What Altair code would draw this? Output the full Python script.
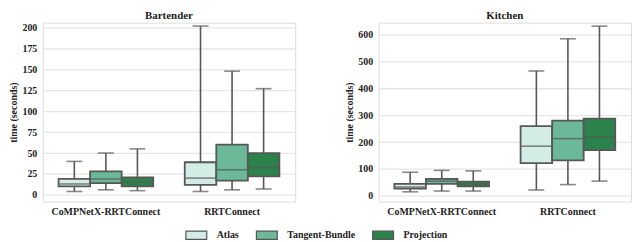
import altair as alt
import pandas as pd

methods = ["Atlas", "Tangent-Bundle", "Projection"]
colors = ["#d3ede6", "#6cb99a", "#2b824b"]
groups = ["CoMPNetX-RRTConnect", "RRTConnect"]

# Bartender: per group, per method -> [min, q1, median, q3, max]
bart_min = [4, 6, 5, 4, 6, 7]
bart_q1 = [10, 14, 10, 12, 17, 22]
bart_med = [13, 19, 15, 20, 30, 33]
bart_q3 = [19, 28, 21, 39, 60, 50]
bart_max = [40, 50, 55, 202, 148, 127]

kit_min = [15, 18, 18, 22, 42, 55]
kit_q1 = [27, 45, 35, 122, 132, 170]
kit_med = [33, 55, 43, 185, 213, 218]
kit_q3 = [45, 63, 53, 260, 280, 288]
kit_max = [88, 95, 93, 465, 585, 632]

bart_ticks = [0, 25, 50, 75, 100, 125, 150, 175, 200]
kit_ticks = [0, 100, 200, 300, 400, 500, 600]


def make_df(mn, q1, md, q3, mx):
    rows = []
    i = 0
    for g in groups:
        for m in methods:
            rows.append(dict(group=g, method=m, mn=mn[i], q1=q1[i], med=md[i], q3=q3[i], mx=mx[i]))
            i += 1
    return pd.DataFrame(rows)


W = 254
H = 180
FONT = "Liberation Serif, Times New Roman, serif"
GRAY = "#575757"


def panel(df, title, domain, ticks, show_legend):
    base = alt.Chart(df).encode(
        x=alt.X("group:N", sort=groups, title=None,
                scale=alt.Scale(paddingInner=0.25, paddingOuter=0.125),
                axis=alt.Axis(labelAngle=0, domain=False, ticks=False, grid=False,
                              labelFont=FONT, labelFontWeight="bold", labelFontSize=10,
                              labelColor="#222222", labelPadding=5)),
        xOffset=alt.XOffset("method:N", sort=methods, scale=alt.Scale(padding=0)),
    )
    yscale = alt.Scale(domain=domain, nice=False, zero=False)
    yaxis = alt.Axis(title="time (seconds)", values=ticks, grid=True, domain=False, ticks=False,
                     gridColor="#e6e6e6", gridWidth=1.3,
                     labelFont=FONT, labelFontWeight="bold", labelFontSize=10, labelColor="#222222",
                     labelPadding=6, titleFont=FONT, titleFontWeight="bold", titleFontSize=10,
                     titleColor="#222222", titlePadding=3)
    whisker = base.mark_rule(color=GRAY, strokeWidth=1.6).encode(
        y=alt.Y("mn:Q", scale=yscale, axis=yaxis), y2="mx:Q")
    caps_lo = base.mark_tick(color=GRAY, size=16, thickness=1.6).encode(
        y=alt.Y("mn:Q", scale=yscale, axis=yaxis))
    caps_hi = base.mark_tick(color=GRAY, size=16, thickness=1.6).encode(
        y=alt.Y("mx:Q", scale=yscale, axis=yaxis))
    if show_legend:
        legend = alt.Legend(orient="none", legendX=143, legendY=H + 22, direction="horizontal",
                            title=None, symbolType="M-1,-0.4H1V0.4H-1Z", symbolSize=441,
                            symbolStrokeColor=GRAY, symbolStrokeWidth=1.2, symbolOpacity=1,
                            labelFont=FONT, labelFontWeight="bold", labelFontSize=10,
                            labelColor="#222222", labelOffset=9, columnPadding=14,
                            labelExpr="datum.label == 'Tangent-Bundle' ? 'Tangent-Bundle\u00a0\u00a0\u00a0\u00a0' : datum.label")
        color = alt.Color("method:N", sort=methods,
                          scale=alt.Scale(domain=methods, range=colors), legend=legend)
    else:
        color = alt.Color("method:N", sort=methods,
                          scale=alt.Scale(domain=methods, range=colors), legend=None)
    box = base.mark_bar(stroke=GRAY, strokeWidth=1.8, opacity=1).encode(
        y=alt.Y("q1:Q", scale=yscale, axis=yaxis), y2="q3:Q", color=color)
    median = base.mark_tick(color=GRAY, size=30, thickness=1.6).encode(
        y=alt.Y("med:Q", scale=yscale, axis=yaxis))
    return alt.layer(whisker, caps_lo, caps_hi, box, median).properties(
        width=W, height=H,
        title=alt.Title(title, font=FONT, fontWeight="bold", fontSize=11, color="#222222", offset=2))


bart = make_df(bart_min, bart_q1, bart_med, bart_q3, bart_max)
kit = make_df(kit_min, kit_q1, kit_med, kit_q3, kit_max)

left = panel(bart, "Bartender", [-8, 206], bart_ticks, True)
right = panel(kit, "Kitchen", [-21, 645], kit_ticks, False)

chart = alt.hconcat(left, right, spacing=48).resolve_scale(y="independent").properties(
    padding={"left": 0, "top": 0, "right": 0, "bottom": 0}
).configure_view(stroke=None).configure(background="white", font=FONT)

chart.save("out.html", embed_options={"renderer": "svg", "actions": False})
